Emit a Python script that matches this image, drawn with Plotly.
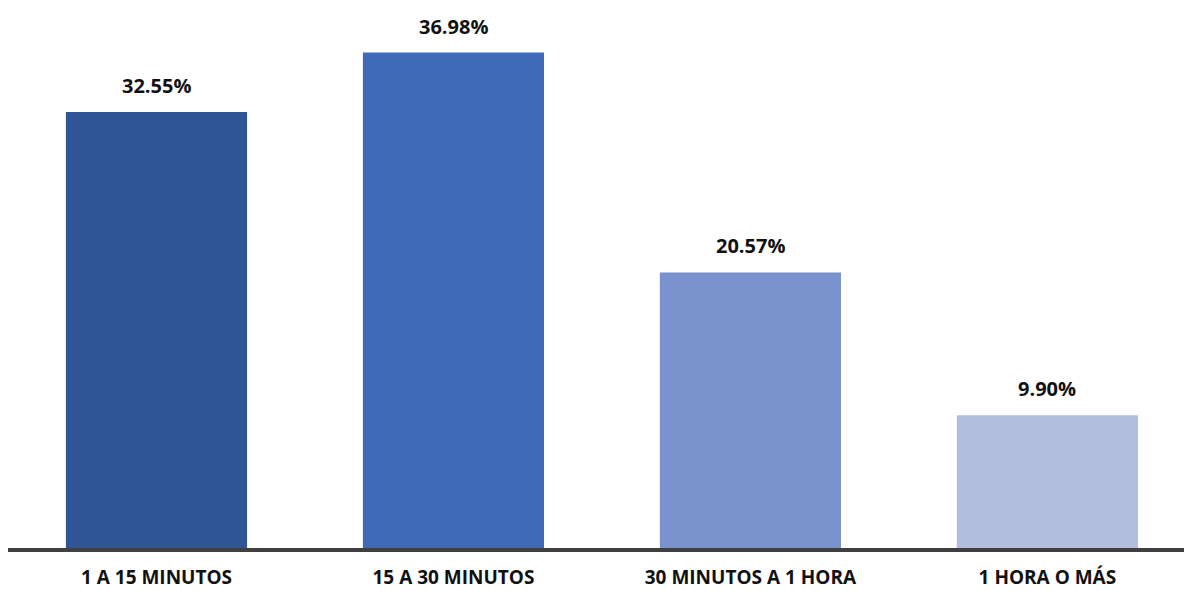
import plotly.graph_objects as go

categories = ["1 A 15 MINUTOS", "15 A 30 MINUTOS", "30 MINUTOS A 1 HORA", "1 HORA O MÁS"]
values = [32.55, 36.98, 20.57, 9.90]
colors = ["#2F5597", "#3F6AB7", "#7A92CE", "#B3BEDE"]

FONT = "'Open Sans', Lato, sans-serif"

fig = go.Figure(
    go.Bar(
        x=categories,
        y=values,
        marker=dict(color=colors, line=dict(width=0)),
        width=0.61,
        hoverinfo="skip",
    )
)

# value labels above each bar
for cat, val in zip(categories, values):
    fig.add_annotation(
        x=cat, y=val, text=f"<b>{val:.2f}%</b>",
        showarrow=False, yanchor="bottom", yshift=11,
        font=dict(family=FONT, size=20, color="#111111"),
    )

fig.update_layout(
    width=1184, height=591,
    margin=dict(l=8, r=0, t=0, b=43),
    plot_bgcolor="white", paper_bgcolor="white",
    showlegend=False,
    font=dict(family=FONT, size=20, color="#111111"),
)
fig.update_xaxes(
    type="category", range=[-0.5, 3.46],
    showline=True, linecolor="#404040", linewidth=4,
    ticks="", showgrid=False, automargin=False,
    tickfont=dict(family=FONT, size=19, color="#111111", weight="bold"),
    ticklabelstandoff=9,
)
fig.update_yaxes(range=[0, 40.9], visible=False, showgrid=False, automargin=False)

fig.write_html("out.html")
